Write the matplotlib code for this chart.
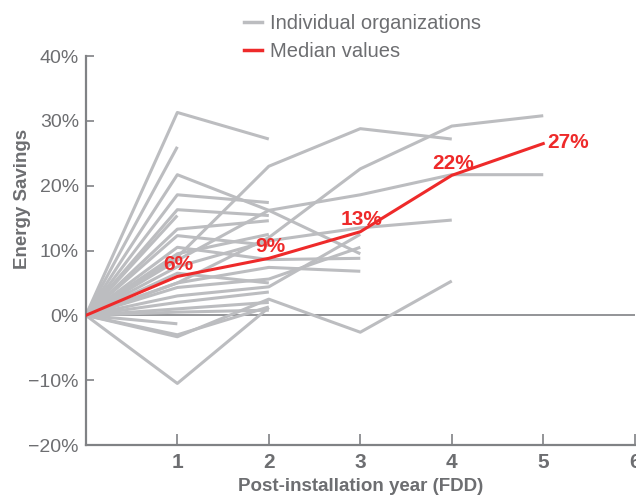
import matplotlib
matplotlib.use("Agg")
import matplotlib.pyplot as plt
from matplotlib import font_manager as fm
from matplotlib.lines import Line2D

names = {f.name for f in fm.fontManager.ttflist}
FAM = ['Liberation Sans Narrow', 'DejaVu Sans'] if 'Liberation Sans Narrow' in names else ['Liberation Sans', 'DejaVu Sans']
plt.rcParams['font.family'] = FAM

# ---- data ----
years = [0, 1, 2, 3, 4, 5]
median_values = [0, 6.0, 8.8, 12.9, 21.6, 26.5]
median_labels = ["6%", "9%", "13%", "22%", "27%"]

org_01 = [0, 31.3, 27.2]
org_02 = [0, 26.0]
org_03 = [0, 21.7, 16.2, 9.5]
org_04 = [0, 18.6, 17.4]
org_05 = [0, 16.3, 15.4]
org_06 = [0, 15.4]
org_07 = [0, 13.3, 14.6]
org_08 = [0, 9.0, 23.0, 28.8, 27.2]
org_09 = [0, 10.5, 8.6, 8.8]
org_10 = [0, 8.5, 16.2, 18.6, 21.7, 21.7]
org_11 = [0, 5.0, 12.0, 22.6, 29.2, 30.8]
org_12 = [0, 7.5, 11.5, 13.5, 14.7]
org_13 = [0, 12.3, 10.8]
org_14 = [0, 5.0, 7.4, 6.8]
org_15 = [0, 4.3, 5.6, 10.5]
org_16 = [0, 3.0, 4.4, 12.5]
org_17 = [0, 2.0, 3.6]
org_18 = [0, 1.0, 2.0]
org_19 = [0, -1.3]
org_20 = [0, -3.3, 2.5, -2.6, 5.3]
org_21 = [0, -3.0, 1.3]
org_22 = [0, -10.5, 1.2]
org_23 = [0, 0.5, 0.8]
org_24 = [0, 6.5, 5.0]
org_25 = [0, 9.5, 12.5]

organizations = [org_01, org_02, org_03, org_04, org_05, org_06, org_07, org_08,
                 org_09, org_10, org_11, org_12, org_13, org_14, org_15, org_16,
                 org_17, org_18, org_19, org_20, org_21, org_22, org_23, org_24,
                 org_25]

yticks = [-20, -10, 0, 10, 20, 30, 40]
ytick_labels = ["\u221220%", "\u221210%", "0%", "10%", "20%", "30%", "40%"]
xticks = [1, 2, 3, 4, 5, 6]

# ---- style ----
GRAY_LINE = "#bcbdc0"
RED = "#ee2a2a"
AX_GRAY = "#808285"
TXT_GRAY = "#6d6e71"

fig = plt.figure(figsize=(6.36, 4.97), dpi=100)
ax = fig.add_axes([0.135, 0.1046, 0.863, 0.7826])

for org in organizations:
    ax.plot(years[:len(org)], org, color=GRAY_LINE, lw=2.2, solid_capstyle='butt', zorder=2)

ax.axhline(0, color=AX_GRAY, lw=1.2, zorder=1)

ax.plot(years, median_values, color=RED, lw=2.2, zorder=3)

for i, lab in enumerate(median_labels):
    x = years[i + 1]
    y = median_values[i + 1]
    if i == len(median_labels) - 1:
        ax.annotate(lab, (x, y), xytext=(3, 1), textcoords='offset points',
                    ha='left', va='center', color=RED, fontsize=15, fontweight='bold', zorder=4)
    else:
        ax.annotate(lab, (x, y), xytext=(1, 2), textcoords='offset points',
                    ha='center', va='bottom', color=RED, fontsize=15, fontweight='bold', zorder=4)

ax.set_xlim(0, 6)
ax.set_ylim(-20, 40)
ax.set_yticks(yticks)
ax.set_yticklabels(ytick_labels)
ax.set_xticks(xticks)
ax.set_xticklabels([str(t) for t in xticks])

for s in ['top', 'right']:
    ax.spines[s].set_visible(False)
for s in ['left', 'bottom']:
    ax.spines[s].set_color(AX_GRAY)
    ax.spines[s].set_linewidth(1.6)

ax.tick_params(axis='y', direction='in', length=6, width=1.2, color=AX_GRAY,
               labelcolor=TXT_GRAY, labelsize=14, pad=5)
ax.tick_params(axis='x', direction='in', length=8, width=1.2, color=AX_GRAY,
               labelcolor=TXT_GRAY, labelsize=15, pad=6)
for t in ax.get_xticklabels():
    t.set_fontweight('bold')

ax.set_xlabel("Post-installation year (FDD)", fontsize=13.5, fontweight='bold', color=TXT_GRAY, labelpad=4)
ax.set_ylabel("Energy Savings", fontsize=13.5, fontweight='bold', color=TXT_GRAY)
ax.yaxis.set_label_coords(-0.1, 0.632)

handles = [Line2D([], [], color=GRAY_LINE, lw=2.5), Line2D([], [], color=RED, lw=2.5)]
fig.legend(handles, ["Individual organizations", "Median values"],
           loc='upper left', bbox_to_anchor=(0.355, 1.008), frameon=False,
           fontsize=14.5, handlelength=0.9, handletextpad=0.4, labelspacing=0.45,
           labelcolor=TXT_GRAY)

fig.savefig("out.png", dpi=100)
